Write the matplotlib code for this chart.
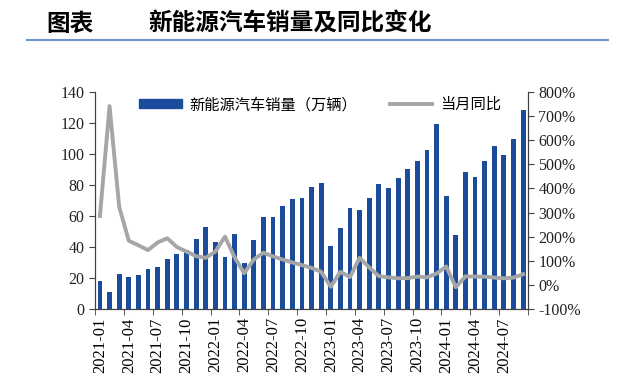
import matplotlib
matplotlib.use("Agg")
import matplotlib.pyplot as plt
import numpy as np
from matplotlib.lines import Line2D

plt.rcParams["font.family"] = ["Noto Sans CJK SC", "DejaVu Sans"]

# monthly data 2021-01 .. 2024-09
months = [f"{y}-{m:02d}" for y in range(2021, 2025) for m in range(1, 13)][:45]

sales = [17.9, 11.0, 22.6, 20.6, 21.7, 25.6, 27.1, 32.1, 35.7, 38.3, 45.0, 53.1,
         43.1, 33.4, 48.4, 29.9, 44.7, 59.6, 59.3, 66.6, 70.8, 71.4, 78.6, 81.4,
         40.8, 52.5, 65.3, 63.6, 71.7, 80.6, 78.0, 84.6, 90.4, 95.6, 102.6, 119.1,
         72.9, 47.7, 88.3, 85.0, 95.5, 104.9, 99.1, 110.0, 128.7]

yoy = [286, 742, 324, 183, 164, 144, 176, 193, 157, 138, 119, 112,
       138, 200, 114, 48, 105, 133, 118, 105, 93, 82, 70, 54,
       -8, 54, 32, 112, 72, 36, 31, 27, 28, 34, 31, 47,
       76, -10, 35, 34, 34, 30, 27, 30, 44]

bar_color = "#1B4C9C"
line_color = "#A6A6A6"
serif = "Liberation Serif"

fig = plt.figure(figsize=(6.3, 3.92), dpi=100)
ax = fig.add_axes([0.151, 0.212, 0.687, 0.553])
ax2 = ax.twinx()

x = np.arange(len(months))
ax.bar(x, sales, width=0.5, color=bar_color, zorder=2)
ax2.plot(x, yoy, color=line_color, lw=2.8, zorder=3)

ax.set_xlim(-0.5, len(months) - 0.5)
ax.set_ylim(0, 140)
ax.set_yticks(range(0, 141, 20))
ax2.set_ylim(-100, 800)
ax2.set_yticks(range(-100, 801, 100))
ax2.set_yticklabels([f"{v}%" for v in range(-100, 801, 100)])

# labels centred on every 3rd month, ticks on slot boundaries
ax.set_xticks(x[::3])
ax.set_xticklabels(months[::3], rotation=90, family=serif, fontsize=12)
ax.tick_params(axis="x", length=0, pad=6)
ax.set_xticks(np.arange(-0.5, len(months), 3), minor=True)
ax.tick_params(axis="x", which="minor", length=4, color="#404040")

for a in (ax, ax2):
    a.tick_params(axis="y", labelsize=11.5, length=4, color="#404040", labelcolor="#222222")
    for lbl in a.get_yticklabels():
        lbl.set_family(serif)
    a.spines["top"].set_visible(False)
    for s in ("left", "right", "bottom"):
        a.spines[s].set_color("#404040")

# line axis drawn above the bars
ax2.set_zorder(ax.get_zorder() + 1)
ax2.patch.set_visible(False)

handles = [plt.Rectangle((0, 0), 1, 1, color=bar_color),
           Line2D([], [], color=line_color, lw=2.8)]
ax2.legend(handles, ["新能源汽车销量（万辆）", "当月同比"], ncol=2, frameon=False,
           loc="upper center", bbox_to_anchor=(0.52, 1.045), fontsize=11,
           handlelength=2.8, handleheight=0.5, columnspacing=2.1, handletextpad=0.5)

# header
fig.text(0.073, 0.94, "图表", fontsize=17, fontweight="bold", va="center")
fig.text(0.235, 0.94, "新能源汽车销量及同比变化", fontsize=17, fontweight="bold", va="center")
fig.add_artist(Line2D([0.043, 0.965], [0.897, 0.897], color="#6F93CC", lw=1.5))

fig.savefig("out.png", dpi=100)
